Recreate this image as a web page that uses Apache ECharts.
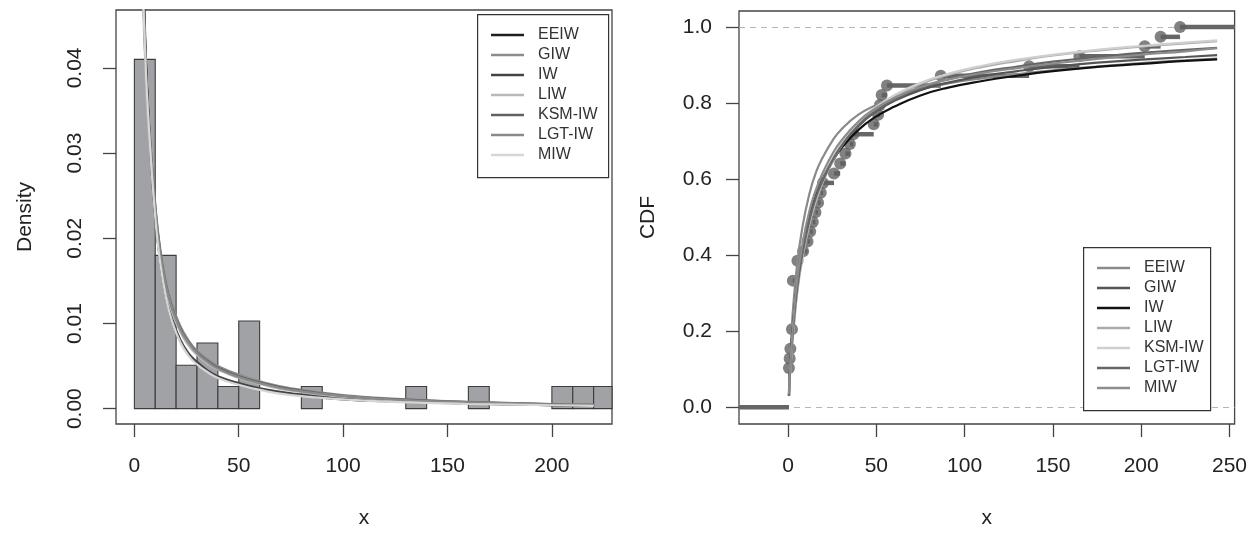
<!DOCTYPE html>
<html>
<head>
<meta charset="utf-8">
<script src="https://cdn.jsdelivr.net/npm/echarts@6/dist/echarts.min.js"></script>
<style>
html,body{margin:0;padding:0;background:#fff;}
#chart{width:1250px;height:534px;}
</style>
</head>
<body>
<div id="chart"></div>
<script>
// ---------- DATA ----------
const modelNames = ['EEIW', 'GIW', 'IW', 'LIW', 'KSM-IW', 'LGT-IW', 'MIW'];

// Histogram (left panel)
const binStart = [0, 10, 20, 30, 40, 50, 80, 130, 160, 200, 210, 220];
const binEnd   = [10, 20, 30, 40, 50, 60, 90, 140, 170, 210, 220, 230];
const binDensity = [0.041, 0.018, 0.0051, 0.0077, 0.0026, 0.0103, 0.0026, 0.0026, 0.0026, 0.0026, 0.0026, 0.0026];

// Fitted density curves (left panel)
const densX = [3, 4, 5, 6, 8, 10, 12, 15, 18, 22, 26, 30, 35, 40, 50, 60, 75, 100, 130, 160, 200, 220];
const densEEIW  = [0.066,0.054,0.045,0.038,0.029,0.0225,0.018,0.0133,0.0104,0.0079,0.0063,0.0053,0.0044,0.0037,0.0029,0.0023,0.0017,0.0011,0.0008,0.0006,0.0004,0.00035];
const densGIW   = [0.062,0.051,0.043,0.037,0.030,0.0240,0.0195,0.0150,0.0122,0.0097,0.0080,0.0068,0.0058,0.0050,0.0040,0.0032,0.0024,0.0016,0.0011,0.0008,0.00055,0.00048];
const densIW    = [0.064,0.053,0.044,0.038,0.029,0.0228,0.0182,0.0136,0.0106,0.0081,0.0065,0.0055,0.0045,0.0038,0.0030,0.0024,0.0018,0.0012,0.00085,0.00062,0.00042,0.00036];
const densLIW   = [0.059,0.049,0.042,0.036,0.029,0.0232,0.0187,0.0142,0.0114,0.0090,0.0074,0.0063,0.0053,0.0046,0.0036,0.0029,0.0021,0.0014,0.00095,0.0007,0.00048,0.00042];
const densKSMIW = [0.063,0.052,0.044,0.038,0.030,0.0238,0.0192,0.0147,0.0119,0.0094,0.0078,0.0066,0.0056,0.0048,0.0038,0.0031,0.0023,0.0015,0.00105,0.00078,0.00053,0.00046];
const densLGTIW = [0.061,0.051,0.043,0.037,0.0298,0.0236,0.0190,0.0146,0.0118,0.0093,0.0077,0.0065,0.0055,0.0047,0.0037,0.0030,0.0022,0.0015,0.0010,0.00075,0.0005,0.00044];
const densMIW   = [0.060,0.050,0.043,0.037,0.029,0.0225,0.0178,0.0132,0.0103,0.0078,0.0062,0.0052,0.0043,0.0036,0.0028,0.0022,0.0016,0.0011,0.00075,0.00055,0.0004,0.00033];

// Empirical CDF points (right panel)
const ecdfX = [0.5, 0.9, 1.3, 2.2, 2.7, 5.3, 8.5, 11, 12.5, 14, 15.5, 17, 18.5, 19.8, 26, 29.5, 32.5, 35, 37, 48.5, 51, 52, 53, 56, 86.5, 136.5, 165, 202, 211, 222];
const ecdfY = [0.103,0.128,0.154,0.205,0.333,0.385,0.410,0.436,0.462,0.487,0.513,0.538,0.564,0.590,0.615,0.641,0.667,0.692,0.718,0.744,0.769,0.795,0.821,0.846,0.872,0.897,0.923,0.949,0.974,1.0];

// Fitted CDF curves (right panel)
const cdfX = [0.5, 1, 2, 3, 5, 8, 12, 16, 20, 25, 30, 40, 50, 60, 75, 90, 110, 130, 150, 175, 200, 225, 243];
const cdfEEIW  = [0.04,0.11,0.20,0.27,0.37,0.47,0.56,0.62,0.66,0.70,0.73,0.77,0.795,0.815,0.836,0.851,0.865,0.876,0.886,0.896,0.905,0.912,0.917];
const cdfGIW   = [0.03,0.09,0.165,0.225,0.32,0.415,0.50,0.56,0.605,0.65,0.685,0.74,0.778,0.805,0.834,0.853,0.871,0.884,0.895,0.906,0.914,0.921,0.926];
const cdfIW    = [0.03,0.09,0.165,0.225,0.32,0.41,0.495,0.555,0.60,0.645,0.68,0.73,0.765,0.79,0.82,0.84,0.858,0.872,0.884,0.895,0.903,0.911,0.915];
const cdfLIW   = [0.03,0.08,0.145,0.20,0.295,0.39,0.48,0.545,0.595,0.645,0.685,0.745,0.785,0.815,0.85,0.873,0.895,0.911,0.925,0.938,0.948,0.957,0.963];
const cdfKSMIW = [0.03,0.08,0.15,0.205,0.30,0.395,0.485,0.55,0.60,0.65,0.69,0.75,0.79,0.82,0.853,0.876,0.898,0.914,0.927,0.94,0.95,0.959,0.965];
const cdfLGTIW = [0.03,0.085,0.155,0.21,0.305,0.40,0.49,0.555,0.60,0.648,0.686,0.742,0.78,0.808,0.84,0.862,0.882,0.896,0.909,0.921,0.932,0.94,0.945];
const cdfMIW   = [0.035,0.09,0.165,0.23,0.33,0.425,0.515,0.575,0.62,0.665,0.70,0.752,0.787,0.813,0.842,0.861,0.879,0.892,0.904,0.916,0.927,0.936,0.944];

// Tick labels
const leftXTicks = [0, 50, 100, 150, 200];
const leftYTicks = [0, 0.01, 0.02, 0.03, 0.04];
const rightXTicks = [0, 50, 100, 150, 200, 250];
const rightYTicks = [0, 0.2, 0.4, 0.6, 0.8, 1.0];

// ---------- STYLE / LAYOUT ----------
const leftColors  = ['#1e1e1e', '#8c8c8c', '#444444', '#b8b8b8', '#606060', '#8a8a8a', '#d6d6d6'];
const rightColors = ['#8a8a8a', '#555555', '#111111', '#aaaaaa', '#cfcfcf', '#666666', '#8c8c8c'];
const LX = [-8.8, 228.8], LY = [-0.0018, 0.0468];
const RX = [-27.8, 252.9], RY = [-0.044, 1.042];
const FONT = "'Liberation Sans', Arial, Helvetica, sans-serif";
const axisCol = '#444';

const densSets = [densEEIW, densGIW, densIW, densLIW, densKSMIW, densLGTIW, densMIW];
const cdfSets  = [cdfEEIW, cdfGIW, cdfIW, cdfLIW, cdfKSMIW, cdfLGTIW, cdfMIW];
const zip = (xs, ys) => xs.map((x, i) => [x, ys[i]]);

function xAxisCfg(gi, range, ticks) {
  return {
    gridIndex: gi, type: 'value', min: range[0], max: range[1],
    name: 'x', nameLocation: 'middle', nameGap: 84,
    nameTextStyle: {fontSize: 21, color: '#222', fontFamily: FONT},
    axisLine: {show: false, onZero: false},
    axisTick: {show: true, inside: false, length: 13, customValues: ticks, lineStyle: {color: axisCol, width: 1.3}},
    axisLabel: {show: true, customValues: ticks, fontSize: 21, color: '#222', fontFamily: FONT, margin: 32},
    splitLine: {show: false}
  };
}

const histData = binStart.map((s, i) => [s, binEnd[i], binDensity[i]]);

const stepData = [];
stepData.push([RX[0], ecdfX[0], 0]);
for (let i = 0; i < ecdfX.length; i++) {
  const x1 = i < ecdfX.length - 1 ? ecdfX[i + 1] : RX[1];
  stepData.push([ecdfX[i], x1, ecdfY[i]]);
}

const series = [];
series.push({
  type: 'custom', xAxisIndex: 0, yAxisIndex: 0, silent: true,
  encode: {x: [0, 1], y: 2},
  data: histData,
  renderItem: function (params, api) {
    const p0 = api.coord([api.value(0), api.value(2)]);
    const p1 = api.coord([api.value(1), 0]);
    const cs = params.coordSys;
    const r = echarts.graphic.clipRectByRect(
      {x: p0[0], y: p0[1], width: p1[0] - p0[0], height: p1[1] - p0[1]},
      {x: cs.x, y: cs.y, width: cs.width, height: cs.height});
    if (!r) return null;
    return {type: 'rect', shape: r, style: {fill: '#a1a2a6', stroke: '#3c3c3c', lineWidth: 1.1}};
  },
  z: 1
});
modelNames.forEach((n, i) => {
  series.push({
    type: 'line', name: n, xAxisIndex: 0, yAxisIndex: 0,
    data: zip(densX, densSets[i]), smooth: 0.5,
    showSymbol: false, silent: true, clip: true,
    lineStyle: {color: leftColors[i], width: 2.2}, itemStyle: {color: leftColors[i]}, z: 3
  });
});
// ECDF step segments
series.push({
  type: 'custom', xAxisIndex: 1, yAxisIndex: 1, silent: true,
  encode: {x: [0, 1], y: 2},
  data: stepData,
  renderItem: function (params, api) {
    const p0 = api.coord([api.value(0), api.value(2)]);
    const p1 = api.coord([api.value(1), api.value(2)]);
    return {type: 'line', shape: {x1: p0[0], y1: p0[1], x2: p1[0], y2: p1[1]},
      style: {stroke: '#666', lineWidth: 4.5}};
  },
  z: 2
});
series.push({
  type: 'scatter', xAxisIndex: 1, yAxisIndex: 1, silent: true,
  data: zip(ecdfX, ecdfY), symbol: 'circle', symbolSize: 12,
  itemStyle: {color: '#626262'}, z: 2,
  markLine: {
    silent: true, symbol: 'none', label: {show: false},
    lineStyle: {type: [6, 5], color: '#b5b5b5', width: 1.2},
    data: [{yAxis: 0}, {yAxis: 1}], z: 1
  }
});
modelNames.forEach((n, i) => {
  series.push({
    type: 'line', name: n, xAxisIndex: 1, yAxisIndex: 1,
    data: zip(cdfX, cdfSets[i]), smooth: 0.5,
    showSymbol: false, silent: true, clip: true,
    lineStyle: {color: rightColors[i], width: 2.2}, itemStyle: {color: rightColors[i]}, z: 3
  });
});

function legendCfg(left, top, colors) {
  return {
    left: left, top: top, orient: 'vertical', selectedMode: false, z: 12,
    data: modelNames.map((n, i) => ({name: n, itemStyle: {color: colors[i]}})),
    icon: 'rect', itemWidth: 33, itemHeight: 2.5, itemGap: 4,
    padding: [13, 2, 13, 14],
    textStyle: {fontSize: 16, lineHeight: 16, color: '#333', fontFamily: FONT, padding: [0, 0, 0, 9]}
  };
}
function boxCfg(x, y, w, h) {
  return {type: 'rect', left: x, top: y, z: 11, silent: true,
    shape: {width: w, height: h},
    style: {fill: '#fff', stroke: '#333', lineWidth: 1.2}};
}

const option = {
  backgroundColor: '#fff',
  animation: false,
  grid: [
    {left: 116, top: 10, width: 496, height: 415, show: true, borderColor: axisCol, borderWidth: 1.3, backgroundColor: 'transparent'},
    {left: 739, top: 11, width: 498, height: 416, show: true, borderColor: axisCol, borderWidth: 1.3, backgroundColor: 'transparent'}
  ],
  graphic: [boxCfg(477, 14, 131, 163), boxCfg(1083, 247, 127, 163)],
  legend: [legendCfg(477, 14, leftColors), legendCfg(1083, 247, rightColors)],
  xAxis: [xAxisCfg(0, LX, leftXTicks), xAxisCfg(1, RX, rightXTicks)],
  yAxis: [
    {
      gridIndex: 0, type: 'value', min: LY[0], max: LY[1],
      name: 'Density', nameLocation: 'middle', nameGap: 80, nameRotate: 90,
      nameTextStyle: {fontSize: 21, color: '#222', fontFamily: FONT},
      axisLine: {show: false, onZero: false},
      axisTick: {show: true, inside: false, length: 13, customValues: leftYTicks, lineStyle: {color: axisCol, width: 1.3}},
      axisLabel: {show: true, customValues: leftYTicks, rotate: 90, fontSize: 21, color: '#222', fontFamily: FONT, margin: 30,
        formatter: v => v.toFixed(2)},
      splitLine: {show: false}
    },
    {
      gridIndex: 1, type: 'value', min: RY[0], max: RY[1],
      name: 'CDF', nameLocation: 'middle', nameGap: 80, nameRotate: 90,
      nameTextStyle: {fontSize: 21, color: '#222', fontFamily: FONT},
      axisLine: {show: false, onZero: false},
      axisTick: {show: true, inside: false, length: 13, customValues: rightYTicks, lineStyle: {color: axisCol, width: 1.3}},
      axisLabel: {show: true, customValues: rightYTicks, fontSize: 21, color: '#222', fontFamily: FONT, margin: 27,
        formatter: v => v.toFixed(1)},
      splitLine: {show: false}
    }
  ],
  series: series
};

const chart = echarts.init(document.getElementById('chart'), null, {renderer: 'canvas'});
chart.setOption(option);
</script>
</body>
</html>
